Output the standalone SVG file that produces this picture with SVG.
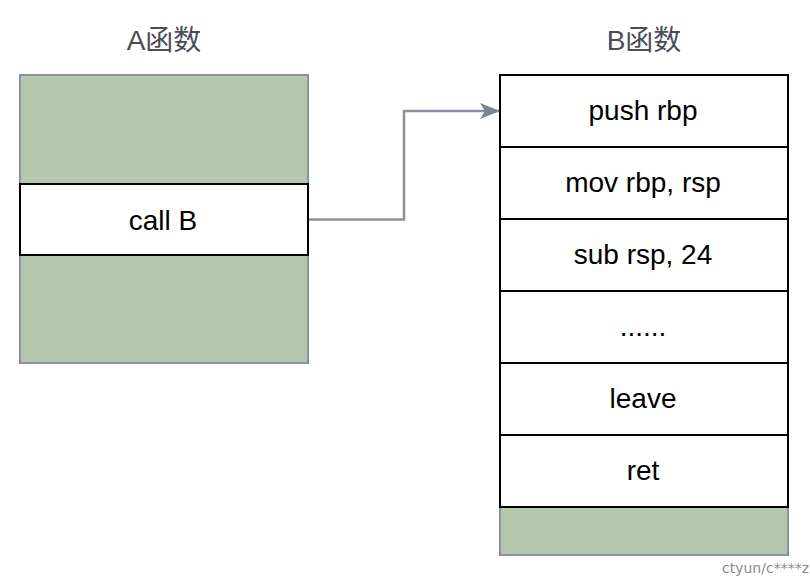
<svg xmlns="http://www.w3.org/2000/svg" width="810" height="580" viewBox="0 0 810 580">
<style>
.green{fill:#b5c8ae;stroke:#8a929e;stroke-width:2}
.cell{fill:#ffffff;stroke:#000000;stroke-width:2}
.t{font-family:"Liberation Sans",Arial,sans-serif;font-size:28px;fill:#000;text-anchor:middle}
.title{font-family:"Liberation Sans","Noto Sans CJK SC",sans-serif;font-size:28px;fill:#4a4d57;text-anchor:middle}
.wm{font-family:"DejaVu Sans","Noto Sans",sans-serif;font-size:14px;fill:#8c8c8c}
</style>
<defs>
<marker id="arr" markerWidth="20" markerHeight="16" refX="19" refY="8" orient="auto" markerUnits="userSpaceOnUse">
<path d="M0,0 L20,8 L0,16 L5,8 Z" fill="#788597"/>
</marker>
</defs>
<rect width="810" height="580" fill="#ffffff"/>
<text class="title" x="164" y="50">A函数</text>
<text class="title" x="644" y="50">B函数</text>
<g id="funcA">
<rect class="green" x="20" y="75" width="288" height="288"/>
</g>
<g id="callB">
<rect class="cell" x="20" y="184" width="288" height="71"/>
<text class="t" x="163" y="230">call B</text>
</g>
<g id="funcB">
<rect class="green" x="500" y="507" width="288" height="48"/>
</g>
<g id="push">
<rect class="cell" x="500" y="75" width="288" height="72"/>
<text class="t" x="643" y="120">push rbp</text>
</g>
<g id="mov">
<rect class="cell" x="500" y="147" width="288" height="72"/>
<text class="t" x="643" y="192">mov rbp, rsp</text>
</g>
<g id="sub">
<rect class="cell" x="500" y="219" width="288" height="72"/>
<text class="t" x="643" y="264">sub rsp, 24</text>
</g>
<g id="dots">
<rect class="cell" x="500" y="291" width="288" height="72"/>
<text class="t" x="643" y="336">......</text>
</g>
<g id="leave">
<rect class="cell" x="500" y="363" width="288" height="72"/>
<text class="t" x="643" y="408">leave</text>
</g>
<g id="ret">
<rect class="cell" x="500" y="435" width="288" height="72"/>
<text class="t" x="643" y="480">ret</text>
</g>
<g id="connectors">
<path d="M309,219.5 H404 V111 H499" fill="none" stroke="#8a929e" stroke-width="2.5" marker-end="url(#arr)"/>
</g>
<text class="wm" x="809" y="573" text-anchor="end">ctyun/c****z</text>
</svg>
